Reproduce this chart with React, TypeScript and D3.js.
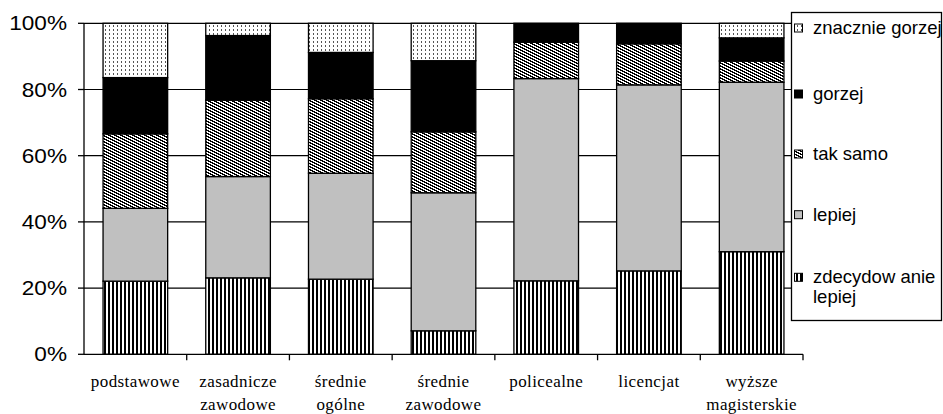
import React from "react";
import * as d3 from "d3";

const categories: string[][] = [
  ["podstawowe"],
  ["zasadnicze", "zawodowe"],
  ["średnie", "ogólne"],
  ["średnie", "zawodowe"],
  ["policealne"],
  ["licencjat"],
  ["wyższe", "magisterskie"],
];

const seriesNames = ["zdecydowanie lepiej", "lepiej", "tak samo", "gorzej", "znacznie gorzej"];

const zdecydowanieLepiej = [22.1, 23.1, 22.7, 7.1, 22.2, 25.2, 31.0];
const lepiej = [22.0, 30.6, 32.0, 41.7, 61.1, 56.2, 51.2];
const takSamo = [22.5, 23.1, 22.5, 18.4, 11.0, 12.4, 6.4];
const gorzej = [17.0, 19.5, 14.0, 21.5, 5.7, 6.2, 7.0];
const znacznieGorzej = [16.4, 3.7, 8.8, 11.3, 0, 0, 4.4];

const yTicks = [0, 20, 40, 60, 80, 100];

const fills = ["url(#pStripes)", "#c0c0c0", "url(#pDiag)", "#000000", "url(#pDots)"];

const W = 943;
const H = 414;
const plot = { left: 84, right: 803, top: 23.3, bottom: 354.3 };

export default function App() {
  const allSeries = [zdecydowanieLepiej, lepiej, takSamo, gorzej, znacznieGorzej];
  const rows = categories.map((c, i) => {
    const r: any = { key: i };
    seriesNames.forEach((s, j) => (r[s] = allSeries[j][i]));
    return r;
  });
  const stack = d3.stack<any>().keys(seriesNames)(rows);

  const x = d3
    .scaleBand<number>()
    .domain(categories.map((_, i) => i))
    .range([plot.left, plot.right])
    .paddingInner(0.371)
    .paddingOuter(0.1855);
  const y = d3.scaleLinear().domain([0, 100]).range([plot.bottom, plot.top]);
  const step = x.step();

  const legendItems = [...seriesNames].reverse();
  const legendBaselines = [34, 100, 160, 220.7, 283.3];

  // diagonal "zigzag" pixels for the "tak samo" texture (6x3 tile)
  const diagPixels: [number, number][] = [];
  for (let r = 0; r < 3; r++) {
    for (let k = 0; k < 3; k++) diagPixels.push([(2 * r + k) % 6, r]);
  }

  return (
    <svg
      width={W}
      height={H}
      style={{ position: "absolute", left: 0, top: 0, background: "#fff" }}
    >
      <defs>
        <pattern id="pStripes" patternUnits="userSpaceOnUse" width={4} height={4}>
          <rect width={4} height={4} fill="#fff" />
          <rect x={0} y={0} width={2} height={4} fill="#000" shapeRendering="crispEdges" />
        </pattern>
        <pattern id="pDiag" patternUnits="userSpaceOnUse" width={6} height={3}>
          <rect width={6} height={3} fill="#fff" />
          {diagPixels.map(([px, py], k) => (
            <rect
              key={k}
              x={px}
              y={py}
              width={1}
              height={1}
              fill="#000"
              shapeRendering="crispEdges"
            />
          ))}
        </pattern>
        <pattern id="pDots" patternUnits="userSpaceOnUse" width={4} height={4}>
          <rect width={4} height={4} fill="#fff" />
          <rect x={1} y={1} width={1} height={2} fill="#555" shapeRendering="crispEdges" />
        </pattern>
      </defs>

      {/* gridlines */}
      {yTicks.slice(1).map((t) => (
        <line
          key={t}
          x1={plot.left}
          x2={plot.right}
          y1={y(t)}
          y2={y(t)}
          stroke="#000"
          strokeWidth={1.2}
        />
      ))}

      {/* bars */}
      {stack.map((s, si) =>
        s.map((d, i) => {
          const h = y(d[0]) - y(d[1]);
          if (h <= 0) return null;
          return (
            <rect
              key={si + "-" + i}
              x={x(i)}
              y={y(d[1])}
              width={x.bandwidth()}
              height={h}
              fill={fills[si]}
              stroke="#000"
              strokeWidth={1.3}
            />
          );
        })
      )}

      {/* y axis */}
      <line x1={plot.left} x2={plot.left} y1={plot.top} y2={plot.bottom} stroke="#000" strokeWidth={1.3} />
      {yTicks.map((t) => (
        <g key={t}>
          <line x1={plot.left - 6} x2={plot.left} y1={y(t)} y2={y(t)} stroke="#000" strokeWidth={1.3} />
          <text
            x={67}
            y={y(t)}
            dy="0.36em"
            textAnchor="end"
            fontFamily="'Liberation Sans', Arial, sans-serif"
            fontSize={20}
            transform={`translate(67,0) scale(1.13,1) translate(-67,0)`}
            fill="#000"
          >
            {t}%
          </text>
        </g>
      ))}

      {/* x axis */}
      <line x1={plot.left} x2={plot.right} y1={plot.bottom} y2={plot.bottom} stroke="#000" strokeWidth={1.3} />
      {categories.map((_, i) => (
        <line
          key={i}
          x1={(x(i) as number) - step * 0.1855 + step}
          x2={(x(i) as number) - step * 0.1855 + step}
          y1={plot.bottom}
          y2={plot.bottom + 6}
          stroke="#000"
          strokeWidth={1.3}
        />
      ))}
      {categories.map((lines, i) => (
        <text
          key={i}
          textAnchor="middle"
          fontFamily="'Liberation Serif', 'Times New Roman', serif"
          fontSize={17}
          letterSpacing={0.4}
          fill="#000"
        >
          {lines.map((l, k) => (
            <tspan key={k} x={(x(i) as number) + x.bandwidth() / 2} y={386.5 + k * 23.5}>
              {l}
            </tspan>
          ))}
        </text>
      ))}

      {/* legend */}
      <rect x={791.5} y={12.5} width={150} height={308} fill="#fff" stroke="#000" strokeWidth={1.3} />
      {legendItems.map((name, i) => {
        const si = seriesNames.indexOf(name);
        const base = legendBaselines[i];
        const lines = name === "zdecydowanie lepiej" ? ["zdecydow anie", "lepiej"] : [name];
        return (
          <g key={name}>
            <rect
              x={794.5}
              y={base - 10}
              width={8}
              height={8}
              fill={fills[si]}
              stroke="#000"
              strokeWidth={1}
            />
            <text fontFamily="'Liberation Sans', Arial, sans-serif" fontSize={18.5} fill="#000">
              {lines.map((l, k) => (
                <tspan key={k} x={813} y={base + k * 20}>
                  {l}
                </tspan>
              ))}
            </text>
          </g>
        );
      })}
    </svg>
  );
}
